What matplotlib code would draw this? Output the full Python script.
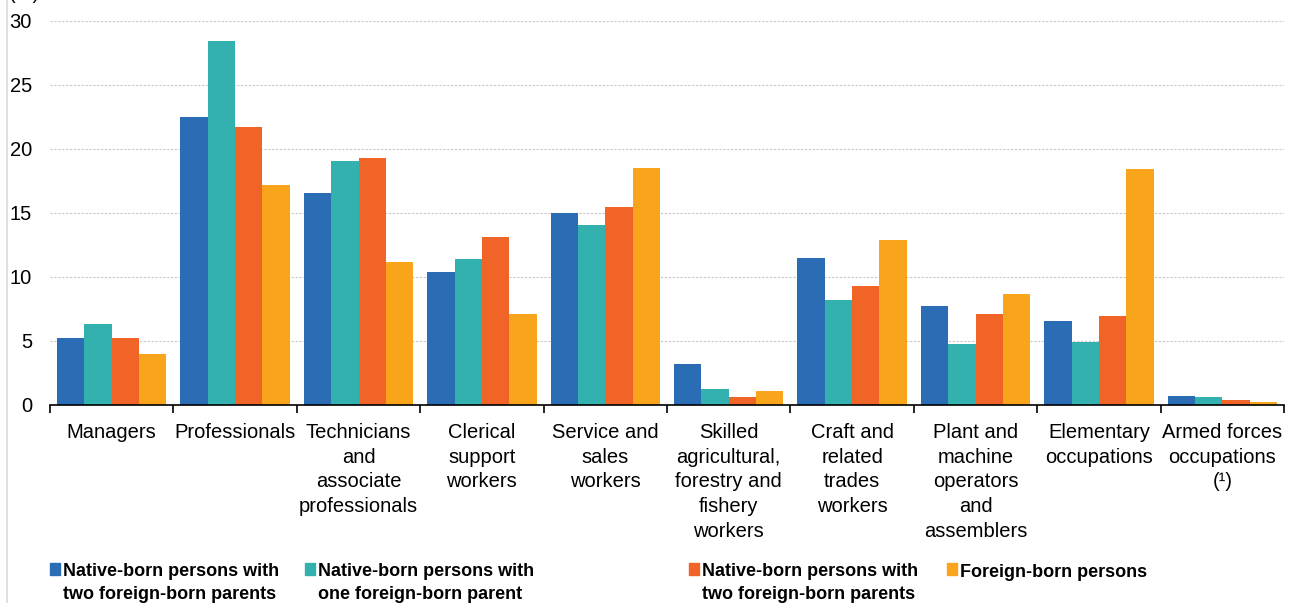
import numpy as np
import matplotlib
matplotlib.use("Agg")
import matplotlib.pyplot as plt
from matplotlib import font_manager
from matplotlib.patches import Rectangle
from matplotlib.lines import Line2D

# ---- data -------------------------------------------------------------
categories = [
    "Managers",
    "Professionals",
    "Technicians\nand\nassociate\nprofessionals",
    "Clerical\nsupport\nworkers",
    "Service and\nsales\nworkers",
    "Skilled\nagricultural,\nforestry and\nfishery\nworkers",
    "Craft and\nrelated\ntrades\nworkers",
    "Plant and\nmachine\noperators\nand\nassemblers",
    "Elementary\noccupations",
    "Armed forces\noccupations\n(\u00b9)",
]

native_two_foreign = [5.2, 22.5, 16.6, 10.4, 15.0, 3.2, 11.5, 7.7, 6.6, 0.7]
native_one_foreign = [6.3, 28.4, 19.1, 11.4, 14.1, 1.25, 8.2, 4.8, 4.9, 0.6]
native_two_native = [5.2, 21.7, 19.3, 13.1, 15.5, 0.6, 9.3, 7.1, 6.95, 0.4]
foreign_born = [4.0, 17.2, 11.2, 7.1, 18.5, 1.1, 12.9, 8.7, 18.4, 0.2]

series_labels = [
    "Native-born persons with\ntwo foreign-born parents",
    "Native-born persons with\none foreign-born parent",
    "Native-born persons with\ntwo foreign-born parents",
    "Foreign-born persons",
]
series_values = [native_two_foreign, native_one_foreign, native_two_native, foreign_born]
colors = ["#2A6DB4", "#33B1AF", "#F06527", "#F9A51C"]

y_ticks = [0, 5, 10, 15, 20, 25, 30]

# ---- fonts ------------------------------------------------------------
available = {f.name for f in font_manager.fontManager.ttflist}
base_font = "Liberation Sans" if "Liberation Sans" in available else "DejaVu Sans"
plt.rcParams["font.family"] = [base_font, "DejaVu Sans"]

W, H = 1293, 603
fig = plt.figure(figsize=(W / 100, H / 100), dpi=100)
ax = fig.add_axes([50 / W, 1 - 405 / H, (1284 - 50) / W, (405 - 21) / H])

n_cat = len(categories)
n_ser = len(series_values)
x = np.arange(n_cat)
bar_w = 0.222

for i, (vals, col) in enumerate(zip(series_values, colors)):
    offs = (i - (n_ser - 1) / 2) * bar_w
    ax.bar(x + offs, vals, width=bar_w, color=col, edgecolor="none", zorder=3)

ax.set_xlim(-0.5, n_cat - 0.5)
ax.set_ylim(0, 30)
ax.set_yticks(y_ticks)
ax.set_yticklabels([str(t) for t in y_ticks], fontsize=14.5)
ax.tick_params(axis="y", length=0, pad=13)

# category boundaries get tick marks; labels sit at the group centres
ax.set_xticks(np.arange(-0.5, n_cat, 1.0))
ax.set_xticklabels([])
ax.tick_params(axis="x", which="major", length=6, width=1.2, color="black", direction="out")
ax.set_xticks(x, minor=True)
ax.set_xticklabels(categories, minor=True, fontsize=14.5, linespacing=1.38)
ax.tick_params(axis="x", which="minor", length=0, pad=13)

for t in y_ticks[1:]:
    ax.axhline(t, color="#C8C8C8", linewidth=0.8, linestyle=(0, (2, 1.5)), zorder=1)

for side in ["top", "right", "left"]:
    ax.spines[side].set_visible(False)
ax.spines["bottom"].set_color("black")
ax.spines["bottom"].set_linewidth(1.2)
ax.spines["bottom"].set_zorder(4)

# unit label at the top left
fig.text(9 / W, 1 + 1 / H, "(%)", fontsize=14.5, ha="left", va="baseline")

# thin frame line at the left edge
fig.add_artist(Line2D([6.5 / W, 6.5 / W], [0, 1], transform=fig.transFigure,
                      color="#DADADA", linewidth=1.2))

# legend, one entry at a time
legend_x = [50, 305, 689, 947]
for lx, lab, col in zip(legend_x, series_labels, colors):
    fig.add_artist(Rectangle((lx / W, 1 - 575 / H), 10 / W, 12 / H,
                             transform=fig.transFigure, color=col))
    n_lines = lab.count("\n") + 1
    last_base = 577 + 22 * (n_lines - 1)
    fig.text((lx + 13) / W, 1 - last_base / H, lab, fontsize=13, fontweight="bold",
             ha="left", va="baseline", linespacing=1.5)

fig.savefig("out.png", dpi=100)
